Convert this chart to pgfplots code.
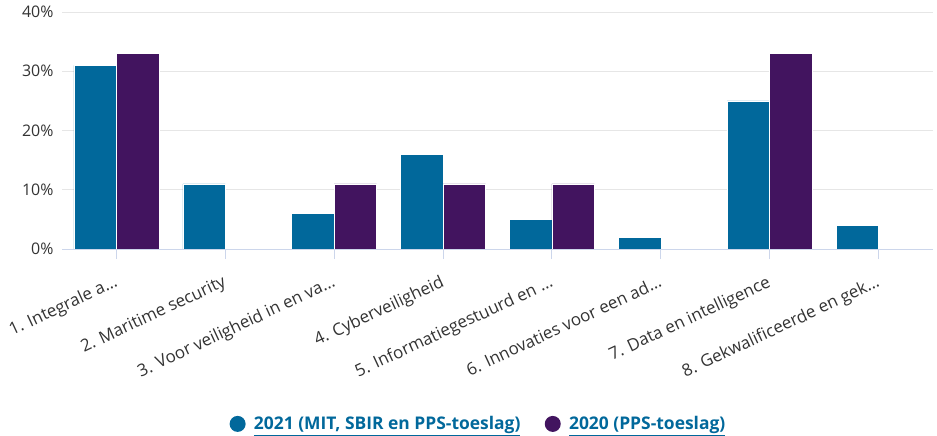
\documentclass[border=0pt]{standalone}
\usepackage{pgfplots}
\pgfplotsset{compat=1.18}
\usepackage{fontspec}
\setmainfont{Open Sans}
\definecolor{roblue}{HTML}{01689B}
\definecolor{roviolet}{HTML}{42145F}
\definecolor{gridc}{HTML}{E6E6E6}
\definecolor{axisc}{HTML}{CCD6EB}
\definecolor{txt}{HTML}{333333}
\begin{document}
\begin{tikzpicture}
\path[use as bounding box] (0bp,0bp) rectangle (937bp,436bp);
\begin{axis}[
  at={(62bp,187bp)}, anchor=south west,
  scale only axis, width=871bp, height=237bp,
  xmin=-0.5, xmax=7.5, ymin=0, ymax=40,
  ybar=0pt, bar width=0.39,
  /pgf/number format/assume math mode=true,
  axis x line*=bottom, axis y line*=left,
  y axis line style={draw=none},
  x axis line style={draw=axisc, line width=1bp},
  xtick={0,...,7},
  xmajorticks=true,
  xticklabels={1. Integrale a…,2. Maritime security,3. Voor veiligheid in en va…,4. Cyberveiligheid,5. Informatiegestuurd en …,6. Innovaties voor een ad…,7. Data en intelligence,8. Gekwalificeerde en gek…},
  x tick label style={xshift=-3bp, yshift=-14bp, rotate=25, anchor=north east, font=\fontsize{17}{17}\selectfont, text=txt, inner sep=1bp},
  xtick style={draw=axisc, line width=1bp},
  tick align=outside, major tick length=10bp,
  ytick={0,10,20,30,40},
  yticklabel={\pgfmathprintnumber{\tick}\%},
  y tick label style={font=\fontsize{16}{16}\selectfont, text=txt, xshift=5bp},
  ytick style={draw=none},
  ymajorgrids, grid style={gridc, line width=1bp},
  legend style={at={(0.478,-0.738)}, anchor=center, draw=none, fill=none,
    font=\bfseries\fontsize{17.5}{18}\selectfont, text=roblue,
    /tikz/every even column/.append style={column sep=22bp}},
  legend columns=2,
  legend image code/.code={\fill[#1, draw=none] (6bp,0bp) circle (8bp); \path (-2bp,0bp) (20bp,0bp);},
]
\addplot[fill=roblue, draw=white, line width=0.6bp] coordinates {(0,31) (1,11) (2,6) (3,16) (4,5) (5,2) (6,25) (7,4)};
\addplot[fill=roviolet, draw=white, line width=0.6bp] coordinates {(0,33) (2,11) (3,11) (4,11) (6,33)};
\legend{\underline{2021 (MIT, SBIR en PPS-toeslag)},\underline{2020 (PPS-toeslag)}}
\end{axis}
\end{tikzpicture}
\end{document}
